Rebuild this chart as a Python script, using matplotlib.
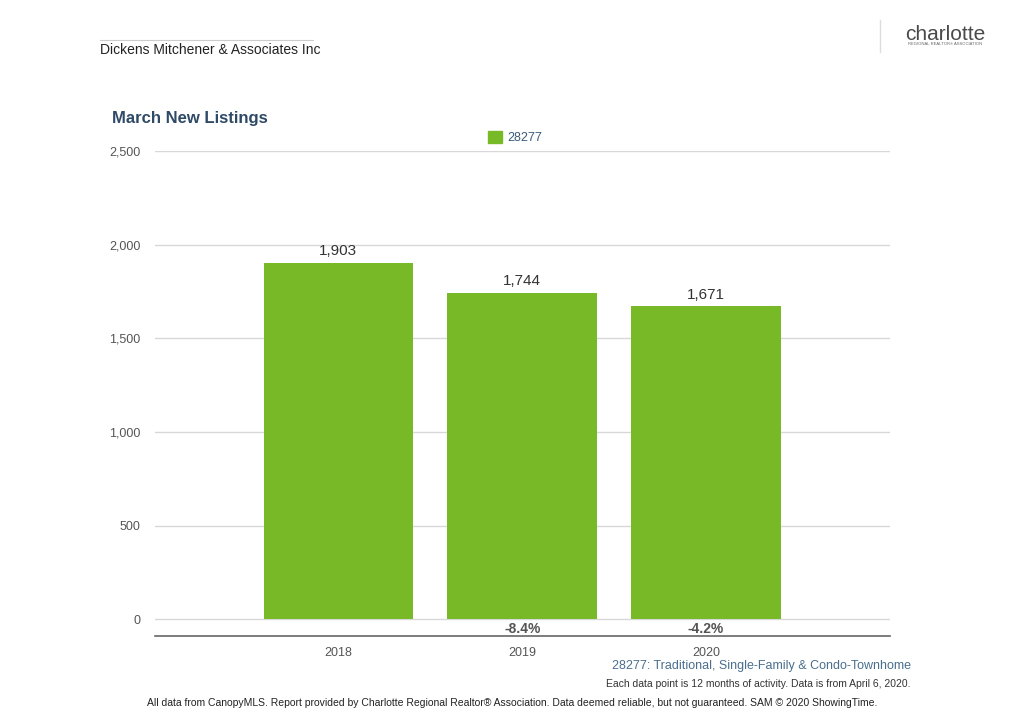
import matplotlib.pyplot as plt
from matplotlib.patches import Rectangle

years = ["2018", "2019", "2020"]
listings = [1903, 1744, 1671]
changes = ["", "-8.4%", "-4.2%"]
yticks = [0, 500, 1000, 1500, 2000, 2500]

GREEN = "#78b928"
plt.rcParams['font.family'] = ['Liberation Sans', 'DejaVu Sans']

fig = plt.figure(figsize=(10.24, 7.15), dpi=100)
ax = fig.add_axes([0.151, 0.110, 0.718, 0.679])

pos = [1, 2, 3]
ax.bar(pos, listings, width=0.815, color=GREEN, zorder=3)
for x, v, c in zip(pos, listings, changes):
    ax.text(x, v + 25, f"{v:,}", ha="center", va="bottom", fontsize=11, color="#333333")
    if c:
        ax.text(x, -50, c, ha="center", va="center", fontsize=10, fontweight="bold", color="#555555")

ax.set_xlim(0, 4)
ax.set_ylim(-91, 2500)
ax.set_yticks(yticks)
ax.set_yticklabels([f"{t:,}" for t in yticks], fontsize=9, color="#555555")
ax.set_xticks(pos)
ax.set_xticklabels(years, fontsize=9, color="#555555")
ax.tick_params(length=0, pad=8)
ax.tick_params(axis="y", pad=10)
for t in yticks:
    ax.axhline(t, color="#d8d8d8", lw=1, zorder=1)
for s in ["top", "right", "left"]:
    ax.spines[s].set_visible(False)
ax.spines["bottom"].set_color("#666666")
ax.spines["bottom"].set_linewidth(1.2)

# legend
fig.patches.append(Rectangle((488/1024, 1-143/715), 14/1024, 12/715,
                             transform=fig.transFigure, color=GREEN))
fig.text(507/1024, 1-138/715, "28277", fontsize=9, color="#3a5a78", va="center")

fig.text(112/1024, 1-118/715, "March New Listings", fontsize=12, fontweight="bold", color="#2e4a66", va="center")
fig.text(100/1024, 1-50/715, "Dickens Mitchener & Associates Inc", fontsize=10, color="#222222", va="center")
fig.add_artist(plt.Line2D([100/1024, 313/1024], [1-40/715, 1-40/715], color="#cccccc", lw=0.8))
fig.add_artist(plt.Line2D([880/1024, 880/1024], [1-20/715, 1-52/715], color="#dddddd", lw=1))
fig.text(945/1024, 1-34/715, "charlotte", fontsize=15, color="#4a4a4a", ha="center", va="center")
fig.text(945/1024, 1-44/715, "REGIONAL REALTOR\u00ae ASSOCIATION", fontsize=3, color="#666666", ha="center", va="center")

fig.text(911/1024, 1-666/715, "28277: Traditional, Single-Family & Condo-Townhome", fontsize=9, color="#4a6e8e", ha="right", va="center")
fig.text(911/1024, 1-684/715, "Each data point is 12 months of activity. Data is from April 6, 2020.", fontsize=7.5, color="#333333", ha="right", va="center")
fig.text(512/1024, 1-703/715, "All data from CanopyMLS. Report provided by Charlotte Regional Realtor\u00ae Association. Data deemed reliable, but not guaranteed. SAM \u00a9 2020 ShowingTime.", fontsize=7.5, color="#222222", ha="center", va="center")

fig.savefig("out.png", dpi=100)
